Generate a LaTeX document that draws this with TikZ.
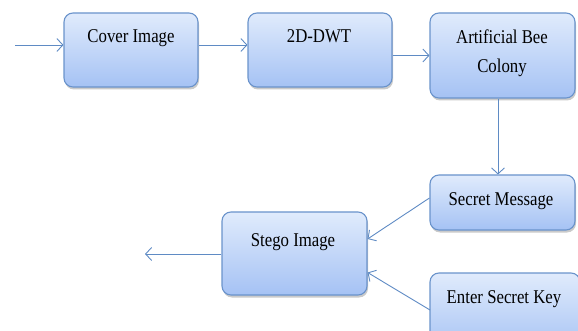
\documentclass[tikz,border=0pt]{standalone}
\usepackage{fontspec}
\setmainfont{Liberation Serif}[FakeStretch=0.86]
\usetikzlibrary{arrows.meta,shadows}
\definecolor{boxtop}{HTML}{E0EBFC}
\definecolor{boxbot}{HTML}{A5C2F4}
\definecolor{boxline}{HTML}{6A93CB}
\definecolor{arrline}{HTML}{5F8BC4}
\tikzset{
  stepbox/.style={draw=boxline, line width=1.1pt, rounded corners=9pt,
    top color=boxtop, bottom color=boxbot, inner sep=0pt,
    drop shadow={shadow xshift=1pt, shadow yshift=-2.5pt, opacity=0.35, fill=black!60}},
  lbl/.style={anchor=base, font=\fontsize{19.5}{29}\selectfont, align=center, inner sep=0pt},
  arr/.style={draw=arrline, line width=0.9pt, -{Straight Barb[length=6pt, width=13pt, line width=0.9pt]}}
}
\begin{document}
\begin{tikzpicture}[x=1pt, y=-1pt]
\useasboundingbox (0,0) rectangle (578,331);
\begin{scope}
\clip (0,0) rectangle (578,331);
% process boxes
\node[stepbox, minimum width=134pt, minimum height=74pt] (cover) at (131,50) {};
\node[stepbox, minimum width=144pt, minimum height=74pt] (dwt) at (320,50) {};
\node[stepbox, minimum width=145pt, minimum height=85pt] (abc) at (502.5,55.5) {};
\node[stepbox, minimum width=145pt, minimum height=55pt] (sm) at (502.5,202.5) {};
\node[stepbox, minimum width=145pt, minimum height=83pt] (stego) at (294.5,253.5) {};
\node[stepbox, minimum width=150pt, minimum height=80pt] (key) at (505,313) {};
\end{scope}
% box captions
\node[lbl] (coverT) at (131,43) {Cover Image};
\node[lbl] (dwtT) at (319,43) {2D-DWT};
\node[lbl] (abcT) at (502,73) {Artificial Bee\\Colony};
\node[lbl] (smT) at (501,206) {Secret Message};
\node[lbl] (stegoT) at (293,246) {Stego Image};
\node[lbl] (keyT) at (504,303) {Enter Secret Key};
% free ends
\coordinate (in) at (15,45);
\coordinate (out) at (145,254);
% connectors
\draw[arr] (in) -- (cover.west |- in);
\draw[arr] ([yshift=5pt]cover.east) -- ([yshift=5pt]dwt.west);
\draw[arr] (dwt.east |- abc.west) -- (abc.west);
\draw[arr] ([xshift=-4.5pt]abc.south) -- ([xshift=-4.5pt]sm.north);
\draw[arr] ([yshift=4.5pt]sm.west) -- ([yshift=14.5pt]stego.east);
\draw[arr] (430,310) -- ([yshift=-19pt]stego.east);
\draw[arr] (stego.west |- out) -- (out);
\end{tikzpicture}
\end{document}
